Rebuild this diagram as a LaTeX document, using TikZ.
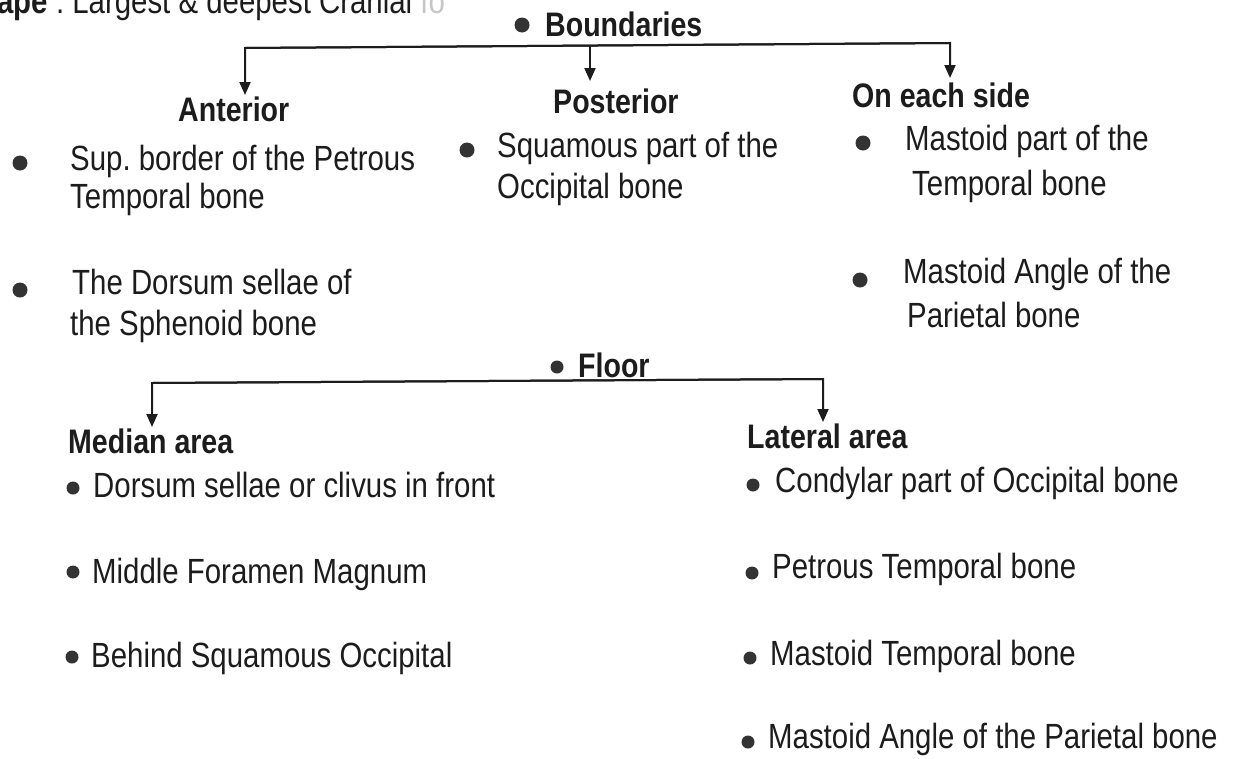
\documentclass[tikz,border=0pt]{standalone}
\usepackage{fontspec}
\setmainfont[FakeStretch=0.84]{Liberation Sans}
\usetikzlibrary{arrows.meta}
\definecolor{ink}{HTML}{1C1C1C}
\definecolor{dotc}{HTML}{333333}
\frenchspacing
\begin{document}
\begin{tikzpicture}[x=1pt,y=-1pt,
  txt/.style={anchor=base west, inner sep=0pt, text=ink, font=\fontsize{35}{42}\selectfont},
  hd/.style={anchor=base west, inner sep=0pt, text=ink, font=\fontsize{34}{40}\selectfont\bfseries},
  bigdot/.style={circle, fill=dotc, draw=none, inner sep=0pt, minimum size=15pt},
  smalldot/.style={circle, fill=dotc, draw=none, inner sep=0pt, minimum size=13pt},
  ln/.style={draw=ink, line width=2pt},
  arr/.style={ln, -{Triangle[length=13pt,width=11pt]}}]
\useasboundingbox (0,0) rectangle (1242,758);
\fill[white] (0,0) rectangle (1242,758);

% top (cut) line
\node[txt] (shape) at (-3,13) {\textbf{ape} : Largest \& deepest Cranial \textcolor{gray!45}{fo}};

% Boundaries
\node[bigdot] (bdot) at (522,25) {};
\node[hd] (bound) at (545,36) {Boundaries};
\coordinate (bL) at (245,48);
\coordinate (bM) at (590,45.5);
\coordinate (bR) at (950,43);
\coordinate (tA) at (245,95);
\coordinate (tP) at (590,81);
\coordinate (tS) at (950,78);
\draw[arr] (bR) -- (bL) -- (tA);
\draw[arr] (bM) -- (tP);
\draw[arr] (bL) -- (bR) -- (tS);

\node[hd] (ant) at (178,121) {Anterior};
\node[hd] (post) at (553,113) {Posterior};
\node[hd] (side) at (852,107) {On each side};

% Anterior items
\node[bigdot] (a1) at (20,163) {};
\node[txt] (a1a) at (70,170) {Sup. border of the Petrous};
\node[txt] (a1b) at (70,208) {Temporal bone};
\node[bigdot] (a2) at (20,290) {};
\node[txt] (a2a) at (72,294) {The Dorsum sellae of};
\node[txt] (a2b) at (70,335) {the Sphenoid bone};

% Posterior items
\node[bigdot] (p1) at (467,150) {};
\node[txt] (p1a) at (497,157) {Squamous part of the};
\node[txt] (p1b) at (497,198) {Occipital bone};

% On each side items
\node[bigdot] (s1) at (863,143) {};
\node[txt] (s1a) at (905,150) {Mastoid part of the};
\node[txt] (s1b) at (912,195) {Temporal bone};
\node[bigdot] (s2) at (860,280) {};
\node[txt] (s2a) at (903,283) {Mastoid Angle of the};
\node[txt] (s2b) at (907,327) {Parietal bone};

% Floor
\node[smalldot] (fdot) at (557,367) {};
\node[hd] (floor) at (578,377) {Floor};
\coordinate (fL) at (152,383);
\coordinate (fR) at (823,379);
\coordinate (tM) at (152,427);
\coordinate (tL) at (823,422);
\draw[arr] (fR) -- (fL) -- (tM);
\draw[arr] (fL) -- (fR) -- (tL);

\node[hd] (med) at (68,453) {Median area};
\node[hd] (lat) at (747,448) {Lateral area};

% Median items
\node[smalldot] (m1) at (73,488) {};
\node[txt] (m1t) at (93,497) {Dorsum sellae or clivus in front};
\node[smalldot] (m2) at (73,572) {};
\node[txt] (m2t) at (92,583) {Middle Foramen Magnum};
\node[smalldot] (m3) at (72,657) {};
\node[txt] (m3t) at (91,667) {Behind Squamous Occipital};

% Lateral items
\node[smalldot] (l1) at (753,485) {};
\node[txt] (l1t) at (775,492) {Condylar part of Occipital bone};
\node[smalldot] (l2) at (752,573) {};
\node[txt] (l2t) at (772,578) {Petrous Temporal bone};
\node[smalldot] (l3) at (750,658) {};
\node[txt] (l3t) at (770,665) {Mastoid Temporal bone};
\node[smalldot] (l4) at (748,742) {};
\node[txt] (l4t) at (768,748) {Mastoid Angle of the Parietal bone};
\end{tikzpicture}
\end{document}
